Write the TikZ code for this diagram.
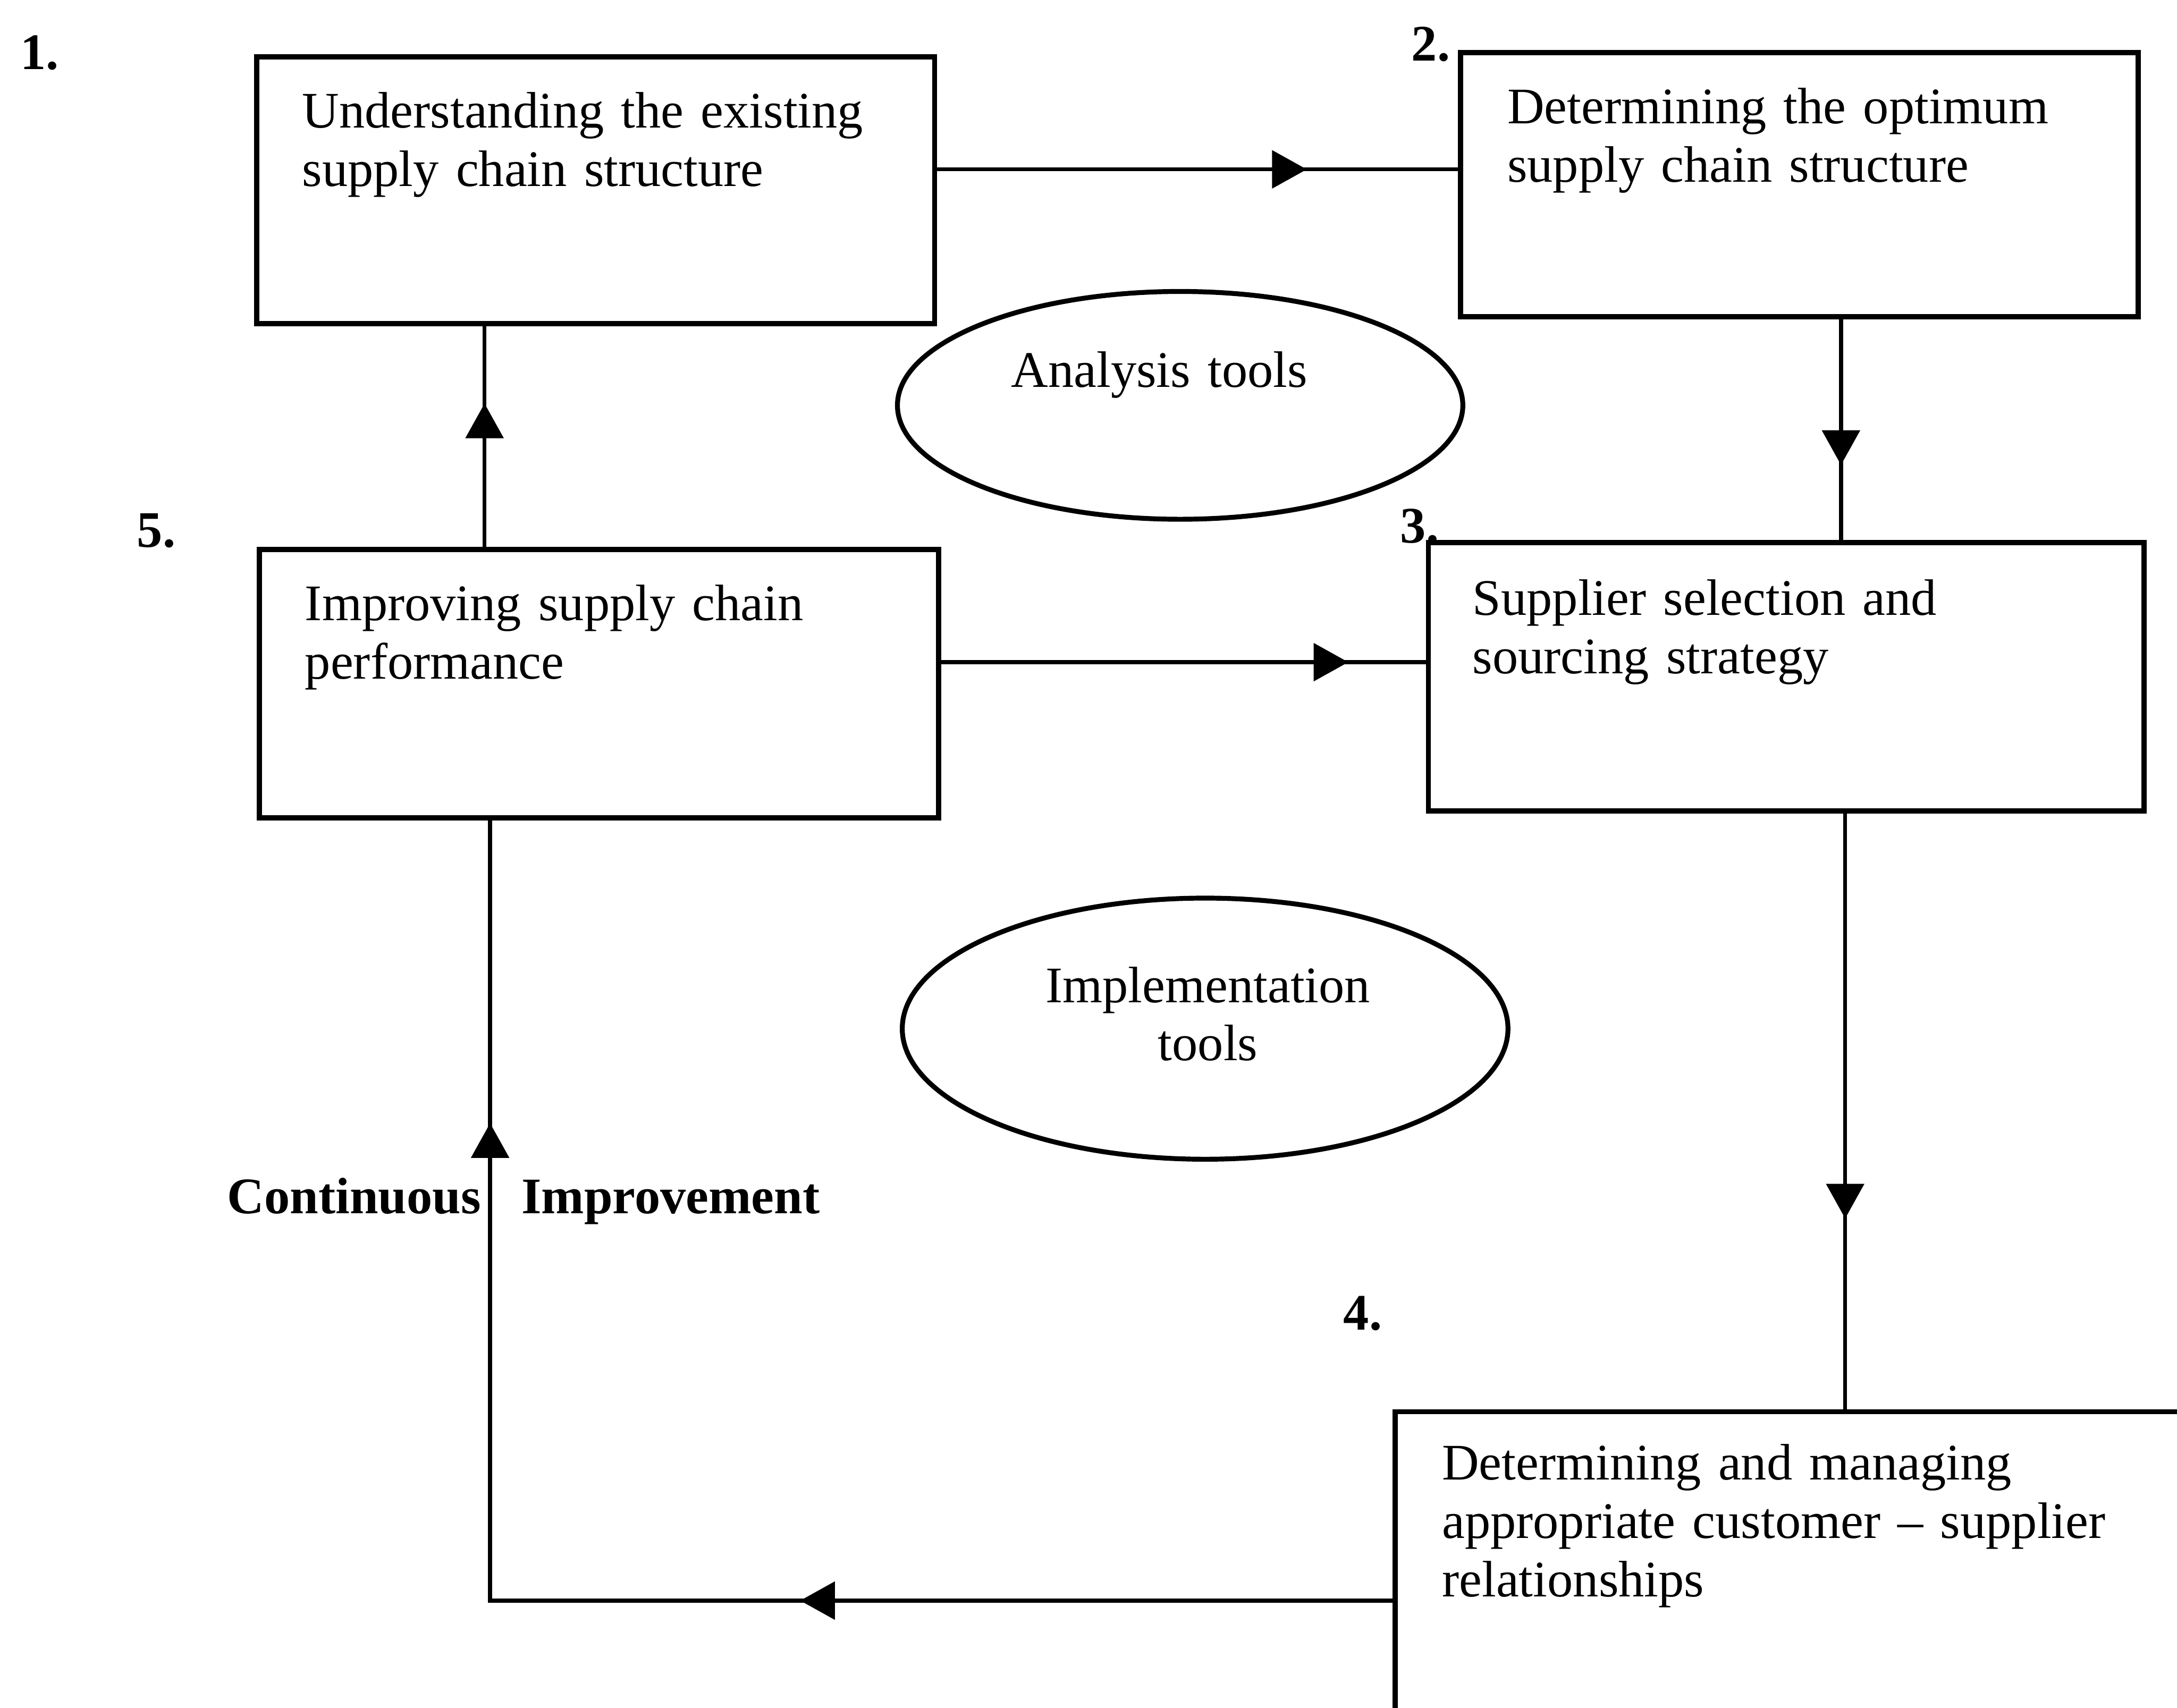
\documentclass[tikz,border=0pt]{standalone}
\usepackage{fontspec}
\setmainfont{Liberation Serif}
\usetikzlibrary{arrows.meta,decorations.markings,shapes.geometric}

\tikzset{
  stepbox/.style={draw, line width=1.05pt, rectangle, inner sep=0pt},
  toolring/.style={draw, line width=1pt, ellipse, inner sep=0pt},
  boxtext/.style={anchor=base west, inner sep=0pt, text width=6cm, align=left,
    font=\fontsize{10.5}{11.95}\selectfont},
  steplabel/.style={anchor=base west, inner sep=0pt, font=\fontsize{10.5}{12}\selectfont\bfseries},
  flow/.style={line width=0.8pt},
  midtip/.style={postaction={decorate, decoration={markings,
    mark=at position #1 with {\arrow{Triangle[length=0.25cm, width=0.27cm]}}}}}
}

\begin{document}
\begin{tikzpicture}[x=0.01cm, y=-0.01cm]
\useasboundingbox[fill=white] (0,0) rectangle (1568,1230);

% process boxes
\node[stepbox, minimum width=4.88cm, minimum height=1.92cm] (b1) at (429,137) {};
\node[stepbox, minimum width=4.88cm, minimum height=1.90cm] (b2) at (1296,133) {};
\node[stepbox, minimum width=5.15cm, minimum height=1.93cm] (b3) at (1286.5,487.5) {};
\node[stepbox, minimum width=4.89cm, minimum height=1.93cm] (b5) at (431.5,492.5) {};
\node[stepbox, minimum width=6.20cm, minimum height=2.15cm] (b4) at (1315,1124.5) {};

% box texts
\node[boxtext] (t1) at (217,92) {Understanding the existing\\supply chain structure};
\node[boxtext] (t2) at (1085,89) {Determining the optimum\\supply chain structure};
\node[boxtext] (t3) at (1060,443) {Supplier selection and\\sourcing strategy};
\node[boxtext] (t5) at (219,447) {Improving supply chain\\performance};
\node[boxtext] (t4) at (1038,1066) {Determining and managing\\appropriate customer -- supplier\\relationships};

% step numbers
\node[steplabel] (n1) at (14,50) {1.};
\node[steplabel] (n2) at (1016,44) {2.};
\node[steplabel] (n3) at (1008,391) {3.};
\node[steplabel] (n4) at (967,958) {4.};
\node[steplabel] (n5) at (98,394) {5.};

% tool groups
\node[toolring, minimum width=4.07cm, minimum height=1.64cm] (e1) at (850,292) {};
\node[toolring, minimum width=4.36cm, minimum height=1.88cm] (e2) at (868,741) {};
\node[boxtext, anchor=base, text width=4cm, align=center] (te1) at (835,279) {Analysis tools};
\node[boxtext, anchor=base, text width=4cm, align=center] (te2) at (870,722) {Implementation\\tools};

% loop label
\node[steplabel] (ci1) at (163,874) {Continuous};
\node[steplabel] (ci2) at (375,874) {Improvement};

% connector rows and columns
\coordinate (r12) at (0,122);
\coordinate (r53) at (0,477);
\coordinate (r45) at (0,1153);
\coordinate (c23) at (1326,0);
\coordinate (c34) at (1329,0);
\coordinate (c51) at (349,0);
\coordinate (c45) at (353,0);

\draw[flow, midtip=0.71] (b1.east |- r12) -- (b2.west |- r12);
\draw[flow, midtip=0.66] (b2.south -| c23) -- (b3.north -| c23);
\draw[flow, midtip=0.84] (b5.east |- r53) -- (b3.west |- r53);
\draw[flow, midtip=0.68] (b3.south -| c34) -- (b4.north -| c34);
\draw[flow, midtip=0.65] (b5.north -| c51) -- (b1.south -| c51);
\draw[flow, midtip=0.352, midtip=0.82] (b4.west |- r45) -- (c45 |- r45) -- (b5.south -| c45);
\end{tikzpicture}
\end{document}
